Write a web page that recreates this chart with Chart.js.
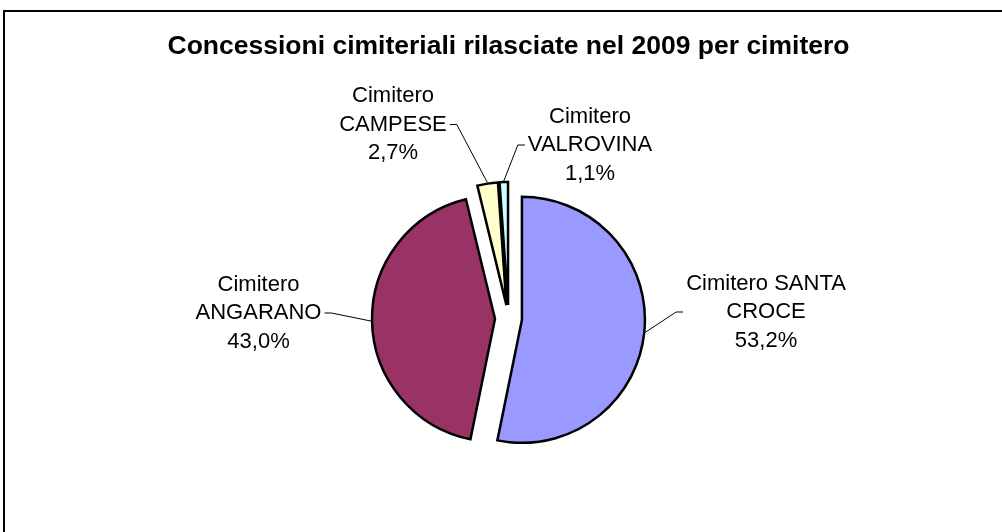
<!DOCTYPE html>
<html lang="it">
<head>
    <meta charset="UTF-8">
    <title>Concessioni cimiteriali 2009</title>
    <script src="https://cdn.jsdelivr.net/npm/chart.js"></script>
    <style>
        body, html {
            margin: 0;
            padding: 0;
            background: #fff;
        }

        #wrap {
            position: relative;
            width: 1002px;
            height: 532px;
            overflow: hidden;
        }

        /* cornice del grafico (solo lato alto e sinistro visibili) */
        #frame {
            position: absolute;
            left: 3px;
            top: 10px;
            width: 1100px;
            height: 600px;
            border-top: 2px solid #000;
            border-left: 2px solid #000;
        }

        #chart {
            position: absolute;
            left: 0;
            top: 0;
        }
    </style>
</head>
<body>
    <div id="wrap">
        <div id="frame"></div>
        <canvas id="chart" width="1002" height="532"></canvas>
    </div>

    <script>
        // Dati
        const categories = ['Cimitero SANTA CROCE', 'Cimitero ANGARANO', 'Cimitero CAMPESE', 'Cimitero VALROVINA'];
        const percentages = [53.2, 43.0, 2.7, 1.1];
        const sliceColors = ['#9999FF', '#993366', '#FFFFCC', '#CCFFFF'];

        // Posizione delle etichette rispetto al centro della torta
        const labelPos = [[257.5, -6.5], [-250, -5.5], [-115.5, -194], [81.5, -173.5]];

        const fontFamily = 'Arial, "Liberation Sans", sans-serif';
        const labelFont = '22px ' + fontFamily;
        const lineH = 28.5;
        const explodeGap = 13.5;

        function wrapText(ctx, text, maxW) {
            const words = text.split(' ');
            const lines = [];
            let cur = '';
            words.forEach(w => {
                const test = cur ? cur + ' ' + w : w;
                if (cur && ctx.measureText(test).width > maxW) {
                    lines.push(cur);
                    cur = w;
                } else {
                    cur = test;
                }
            });
            if (cur) lines.push(cur);
            return lines;
        }

        // Fette "esplose" + etichette con linee di richiamo
        const explodedPie = {
            id: 'explodedPie',
            beforeDatasetDraw(chart, args) {
                const ctx = chart.ctx;
                args.meta.data.forEach(arc => {
                    const mid = (arc.startAngle + arc.endAngle) / 2;
                    ctx.save();
                    ctx.translate(Math.cos(mid) * explodeGap, Math.sin(mid) * explodeGap);
                    arc.draw(ctx);
                    ctx.restore();
                });
                return false;
            },
            afterDatasetsDraw(chart) {
                const ctx = chart.ctx;
                const meta = chart.getDatasetMeta(0);
                ctx.save();
                ctx.font = labelFont;
                ctx.fillStyle = '#000';
                ctx.strokeStyle = '#000';
                ctx.lineWidth = 1;
                ctx.textAlign = 'center';
                ctx.textBaseline = 'middle';
                meta.data.forEach((arc, i) => {
                    const lines = wrapText(ctx, categories[i], 170);
                    lines.push(percentages[i].toFixed(1).replace('.', ',') + '%');
                    const cx = arc.x + labelPos[i][0];
                    const cy = arc.y + labelPos[i][1];
                    const n = lines.length;
                    lines.forEach((t, k) => ctx.fillText(t, cx, cy + (k - (n - 1) / 2) * lineH));

                    // linea di richiamo
                    const boxW = Math.max(...lines.map(t => ctx.measureText(t).width));
                    const mid = (arc.startAngle + arc.endAngle) / 2;
                    const r = arc.outerRadius + explodeGap + 1;
                    const px = arc.x + Math.cos(mid) * r;
                    const py = arc.y + Math.sin(mid) * r;
                    const dir = px > cx ? 1 : -1;
                    const x0 = cx + dir * (boxW / 2 + 3);
                    const x1 = x0 + dir * 7;
                    ctx.beginPath();
                    ctx.moveTo(x0, cy);
                    ctx.lineTo(x1, cy);
                    ctx.lineTo(px, py);
                    ctx.stroke();
                });
                ctx.restore();
            }
        };

        const chart = new Chart(document.getElementById('chart'), {
            type: 'pie',
            data: {
                labels: categories,
                datasets: [{
                    data: percentages,
                    backgroundColor: sliceColors,
                    borderColor: '#000',
                    borderWidth: 2.5,
                    borderJoinStyle: 'miter',
                    radius: 123
                }]
            },
            options: {
                responsive: false,
                animation: false,
                layout: {
                    padding: { left: 15, right: 0, top: 0, bottom: 0 }
                },
                plugins: {
                    legend: { display: false },
                    tooltip: { enabled: false },
                    title: {
                        display: true,
                        text: 'Concessioni cimiteriali rilasciate nel 2009 per cimitero',
                        color: '#000',
                        font: { family: fontFamily, size: 26.5, weight: 'bold' },
                        padding: { top: 31.1, bottom: 42.1 }
                    }
                }
            },
            plugins: [explodedPie]
        });
    </script>
</body>
</html>
